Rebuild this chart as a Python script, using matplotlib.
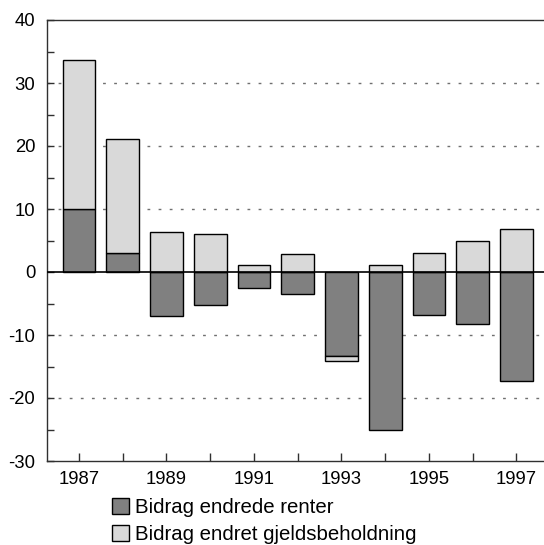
import matplotlib.pyplot as plt
import numpy as np

plt.rcParams['font.family'] = ['Liberation Sans', 'DejaVu Sans']
plt.rcParams['axes.unicode_minus'] = False

years = np.arange(1987, 1998)
renter = [10.0, 3.0, -7.0, -5.3, -2.5, -3.55, -13.4, -25.1, -6.8, -8.25, -17.3]
gjeld = [23.6, 18.1, 6.35, 6.1, 1.06, 2.9, -0.7, 1.06, 3.0, 5.0, 6.9]

# light part sits on the dark part when both go the same way
bottoms = [r if (r > 0) == (g > 0) else 0 for r, g in zip(renter, gjeld)]

fig = plt.figure(figsize=(5.44, 5.45), dpi=100)
ax = fig.add_axes([47 / 544, 84 / 545, 497 / 544, 441 / 545])

ax.bar(years, renter, width=0.75, color='#808080', edgecolor='black',
       linewidth=1.0, zorder=3, label='Bidrag endrede renter')
ax.bar(years, gjeld, width=0.75, bottom=bottoms, color='#d9d9d9',
       edgecolor='black', linewidth=1.0, zorder=3,
       label='Bidrag endret gjeldsbeholdning')
ax.axhline(0, color='black', linewidth=1.2, zorder=4)

ax.set_xlim(1986.27, 1997.63)
ax.set_ylim(-30, 40)

for v in [-20, -10, 10, 20, 30]:
    ax.axhline(v, color='#707070', linewidth=1.0, linestyle=(0, (2, 6)), zorder=1)

ax.set_yticks(np.arange(-30, 41, 10))
ax.set_yticks(np.arange(-25, 40, 10), minor=True)
ax.set_xticks(years[::2])
ax.set_xticks(years[1::2], minor=True)
ax.tick_params(axis='both', which='both', direction='in', length=5,
               width=1, color='#303030', labelsize=13.3)
ax.tick_params(axis='y', pad=8.5)
ax.tick_params(axis='x', pad=7.5, length=6)
ax.tick_params(axis='x', which='minor', length=6)

ax.spines['right'].set_visible(False)
for s in ['left', 'bottom', 'top']:
    ax.spines[s].set_color('#303030')
    ax.spines[s].set_linewidth(1.0)

fig.legend(loc='upper left', bbox_to_anchor=(112 / 544, 1 - 498 / 545),
           frameon=False, fontsize=14.7, handlelength=0.85, handleheight=0.85,
           handletextpad=0.3, labelspacing=0.36, borderpad=0, borderaxespad=0)

fig.savefig('out.png', dpi=100)
